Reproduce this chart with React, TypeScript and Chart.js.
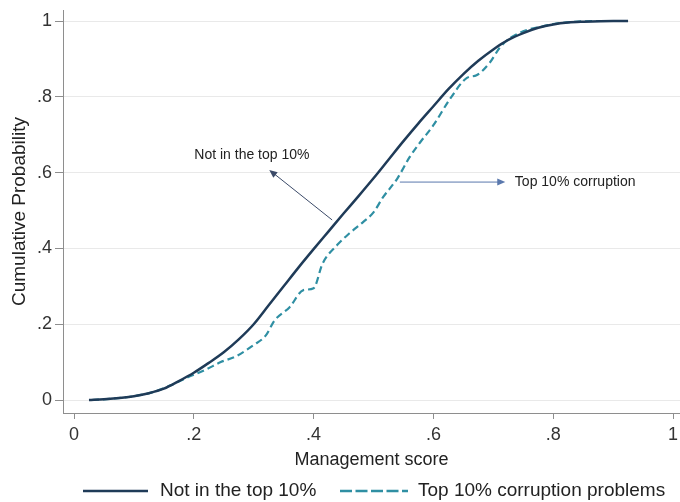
import React, { useEffect, useRef } from "react";
import { Chart, registerables } from "chart.js";

Chart.register(...registerables);

// ---- data ----
const solidX = [0.025, 0.05, 0.08, 0.1, 0.125, 0.15, 0.175, 0.2, 0.225, 0.25, 0.275, 0.3, 0.325, 0.35, 0.375, 0.4, 0.425, 0.45, 0.475, 0.5, 0.525, 0.55, 0.575, 0.6, 0.625, 0.65, 0.675, 0.7, 0.725, 0.75, 0.775, 0.8, 0.825, 0.85, 0.9, 0.925];
const solidY = [0, 0.002, 0.006, 0.01, 0.018, 0.03, 0.05, 0.072, 0.098, 0.126, 0.16, 0.2, 0.25, 0.3, 0.35, 0.398, 0.445, 0.492, 0.538, 0.585, 0.634, 0.683, 0.73, 0.775, 0.82, 0.86, 0.895, 0.925, 0.95, 0.968, 0.982, 0.991, 0.996, 0.998, 1.0, 1.0];

const dashX = [0.03, 0.06, 0.1, 0.13, 0.16, 0.19, 0.22, 0.245, 0.27, 0.3, 0.32, 0.335, 0.36, 0.383, 0.4, 0.415, 0.44, 0.46, 0.483, 0.5, 0.516, 0.54, 0.56, 0.578, 0.6, 0.628, 0.656, 0.672, 0.694, 0.711, 0.728, 0.756, 0.78, 0.8, 0.83, 0.87, 0.92];
const dashY = [0, 0.003, 0.01, 0.02, 0.038, 0.06, 0.08, 0.1, 0.115, 0.145, 0.17, 0.21, 0.245, 0.29, 0.295, 0.36, 0.41, 0.44, 0.47, 0.495, 0.535, 0.585, 0.64, 0.68, 0.725, 0.795, 0.85, 0.857, 0.89, 0.93, 0.955, 0.976, 0.985, 0.992, 0.997, 1.0, 1.0];

const seriesNames = ["Not in the top 10%", "Top 10% corruption problems"];

const xTicks = [0, 0.2, 0.4, 0.6, 0.8, 1];
const xTickLabels = ["0", ".2", ".4", ".6", ".8", "1"];
const yTicks = [0, 0.2, 0.4, 0.6, 0.8, 1];
const yTickLabels = ["0", ".2", ".4", ".6", ".8", "1"];

const xTitle = "Management score";
const yTitle = "Cumulative Probability";

// annotation texts and their anchors (data units)
const note1Text = "Not in the top 10%";
const note1At = [0.297, 0.646];
const arrow1 = [0.431, 0.475, 0.326, 0.607];
const note2Text = "Top 10% corruption";
const note2At = [0.736, 0.575];
const arrow2 = [0.544, 0.575, 0.72, 0.575];

// ---- style ----
const FONT = "'Liberation Sans', Arial, Helvetica, sans-serif";
const NAVY = "#1f3b58";
const TEAL = "#2f8fa3";
const AXIS = "#8e8e8e";
const GRID = "#e9e9e9";
const TEXT = "#222222";

function drawArrow(ctx: CanvasRenderingContext2D, x1: number, y1: number, x2: number, y2: number, color: string) {
  const ang = Math.atan2(y2 - y1, x2 - x1);
  const head = 8;
  const half = 3.5;
  ctx.save();
  ctx.strokeStyle = color;
  ctx.fillStyle = color;
  ctx.lineWidth = 1;
  ctx.beginPath();
  ctx.moveTo(x1, y1);
  ctx.lineTo(x2 - Math.cos(ang) * head * 0.8, y2 - Math.sin(ang) * head * 0.8);
  ctx.stroke();
  ctx.beginPath();
  ctx.moveTo(x2, y2);
  ctx.lineTo(x2 - Math.cos(ang) * head - Math.sin(ang) * half, y2 - Math.sin(ang) * head + Math.cos(ang) * half);
  ctx.lineTo(x2 - Math.cos(ang) * head + Math.sin(ang) * half, y2 - Math.sin(ang) * head - Math.cos(ang) * half);
  ctx.closePath();
  ctx.fill();
  ctx.restore();
}

const extrasPlugin = {
  id: "extras",
  afterDatasetsDraw(chart: any) {
    const ctx: CanvasRenderingContext2D = chart.ctx;
    const xs = chart.scales.x;
    const ys = chart.scales.y;
    const px = (v: number) => xs.getPixelForValue(v);
    const py = (v: number) => ys.getPixelForValue(v);
    ctx.save();
    drawArrow(ctx, px(arrow1[0]), py(arrow1[1]), px(arrow1[2]), py(arrow1[3]), "#3b4a68");
    drawArrow(ctx, px(arrow2[0]), py(arrow2[1]), px(arrow2[2]), py(arrow2[3]), "#5a78ad");
    ctx.fillStyle = TEXT;
    ctx.font = `14px ${FONT}`;
    ctx.textBaseline = "middle";
    ctx.textAlign = "center";
    ctx.fillText(note1Text, px(note1At[0]), py(note1At[1]));
    ctx.textAlign = "left";
    ctx.fillText(note2Text, px(note2At[0]), py(note2At[1]));
    ctx.restore();
  },
  afterDraw(chart: any) {
    const ctx: CanvasRenderingContext2D = chart.ctx;
    const ly = 491;
    ctx.save();
    ctx.lineCap = "butt";
    ctx.strokeStyle = NAVY;
    ctx.lineWidth = 2.5;
    ctx.beginPath();
    ctx.moveTo(83, ly);
    ctx.lineTo(148, ly);
    ctx.stroke();
    ctx.strokeStyle = TEAL;
    ctx.lineWidth = 2.5;
    ctx.setLineDash([12, 3.5]);
    ctx.beginPath();
    ctx.moveTo(340, ly);
    ctx.lineTo(408, ly);
    ctx.stroke();
    ctx.setLineDash([]);
    ctx.fillStyle = TEXT;
    ctx.font = `19px ${FONT}`;
    ctx.textBaseline = "middle";
    ctx.textAlign = "left";
    ctx.fillText(seriesNames[0], 160, ly);
    ctx.fillText(seriesNames[1], 418, ly);
    ctx.restore();
  },
};

export default function App() {
  const ref = useRef<HTMLCanvasElement | null>(null);
  useEffect(() => {
    if (!ref.current) return;
    const chart = new Chart(ref.current, {
      type: "line",
      data: {
        datasets: [
          {
            label: seriesNames[0],
            data: solidX.map((x, i) => ({ x, y: solidY[i] })),
            borderColor: NAVY,
            borderWidth: 2.5,
            pointRadius: 0,
            cubicInterpolationMode: "monotone",
            fill: false,
          },
          {
            label: seriesNames[1],
            data: dashX.map((x, i) => ({ x, y: dashY[i] })),
            borderColor: TEAL,
            borderWidth: 2.2,
            borderDash: [7, 4],
            pointRadius: 0,
            cubicInterpolationMode: "monotone",
            fill: false,
          },
        ],
      },
      options: {
        responsive: false,
        animation: false,
        devicePixelRatio: 1,
        layout: { padding: { top: 10, left: 0, right: 0, bottom: 29 } },
        plugins: { legend: { display: false }, tooltip: { enabled: false } },
        scales: {
          x: {
            type: "linear",
            min: -11 / 599,
            max: 606 / 599,
            afterBuildTicks: (s: any) => {
              s.ticks = xTicks.map((v) => ({ value: v }));
            },
            afterFit: (s: any) => {
              s.height = 60;
              s.paddingLeft = 0;
              s.paddingRight = 0;
            },
            ticks: {
              callback: (_v: any, i: number) => xTickLabels[i],
              font: { family: FONT, size: 18 },
              color: "#333",
              padding: 5,
              maxRotation: 0,
              autoSkip: false,
            },
            grid: { drawOnChartArea: false, drawTicks: true, tickLength: 6, tickColor: AXIS, color: AXIS },
            border: { display: true, color: AXIS, width: 1 },
            title: {
              display: true,
              text: xTitle,
              font: { family: FONT, size: 18 },
              color: "#222",
              padding: { top: 0, bottom: 2 },
            },
          },
          y: {
            type: "linear",
            min: -13 / 379,
            max: 390 / 379,
            afterBuildTicks: (s: any) => {
              s.ticks = yTicks.map((v) => ({ value: v }));
            },
            afterFit: (s: any) => {
              s.width = 63;
              s.paddingTop = 0;
              s.paddingBottom = 0;
            },
            ticks: {
              callback: (_v: any, i: number) => yTickLabels[i],
              font: { family: FONT, size: 18 },
              color: "#333",
              padding: 3,
              autoSkip: false,
            },
            grid: { drawOnChartArea: true, drawTicks: true, tickLength: 8, tickColor: AXIS, color: GRID, lineWidth: 1 },
            border: { display: true, color: AXIS, width: 1 },
            title: {
              display: true,
              text: yTitle,
              font: { family: FONT, size: 19 },
              color: "#222",
              padding: { top: 8, bottom: 0 },
            },
          },
        },
      },
      plugins: [extrasPlugin],
    } as any);
    return () => chart.destroy();
  }, []);
  return (
    <div style={{ position: "absolute", left: 0, top: 0, width: 680, height: 502, background: "#fff" }}>
      <canvas ref={ref} width={680} height={502} style={{ display: "block" }} />
    </div>
  );
}
